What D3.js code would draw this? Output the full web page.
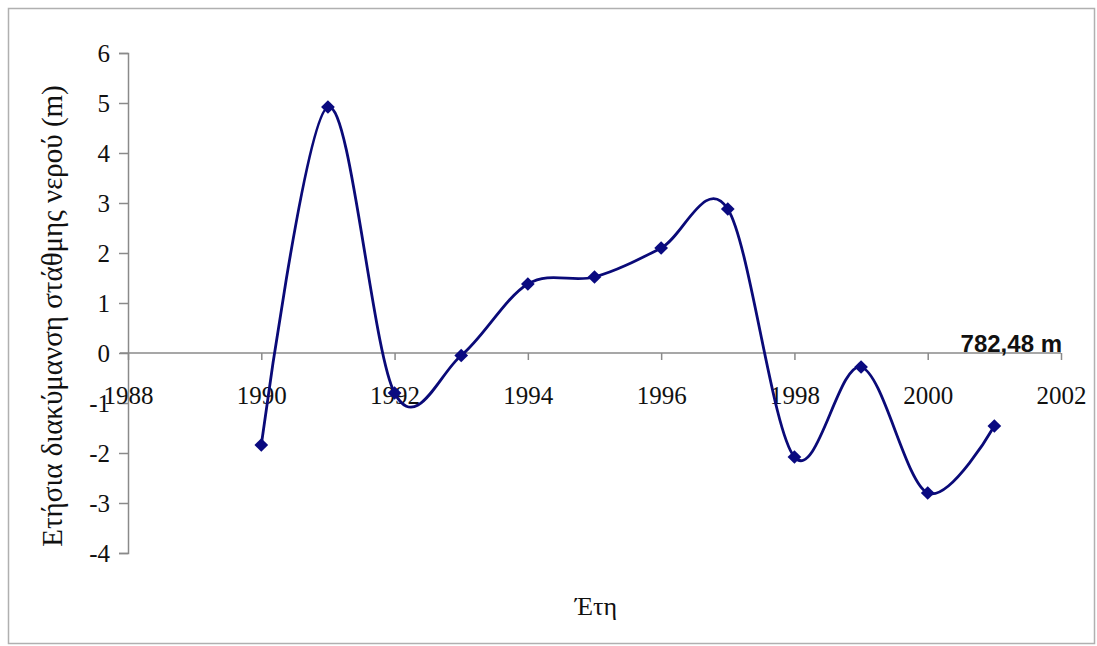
<!DOCTYPE html>
<html><head><meta charset="utf-8">
<script src="https://cdn.jsdelivr.net/npm/d3@7"></script>
<style>body{margin:0;background:#fff}svg{display:block}</style>
</head><body>
<svg id="c" width="1097" height="646"></svg>
<script>
const years = [1990,1991,1992,1993,1994,1995,1996,1997,1998,1999,2000,2001];
const values = [-1.84,4.92,-0.8,-0.05,1.38,1.52,2.1,2.88,-2.08,-0.28,-2.8,-1.46];
const xTicks = [1988,1990,1992,1994,1996,1998,2000,2002];
const yTicks = [-4,-3,-2,-1,0,1,2,3,4,5,6];
const yTitle = "Ετήσια διακύμανση στάθμης νερού (m)";
const xTitle = "Έτη";
const refLabel = "782,48 m";

const svg = d3.select("#c");
svg.append("rect").attr("x",8.5).attr("y",8.5).attr("width",1086).attr("height",635)
  .attr("fill","#fff").attr("stroke","#b0b0b0").attr("stroke-width",1.5);

const x = d3.scaleLinear().domain([1988,2002]).range([128,1061]);
const y = d3.scaleLinear().domain([-4,6]).range([553,53]);
const serif = "'Liberation Serif','Times New Roman',serif";
const axisCol = "#8a8a8a";
const fmt = d => String(d);

// y axis
const ya = svg.append("g").attr("transform",`translate(${x(1988)},0)`)
  .call(d3.axisLeft(y).tickValues(yTicks).tickSize(9).tickPadding(9).tickFormat(fmt));
ya.select(".domain").attr("stroke",axisCol).attr("stroke-width",1.5);
ya.selectAll(".tick line").attr("stroke",axisCol).attr("stroke-width",1.5);
ya.selectAll("text").attr("font-family",serif).attr("font-size",25).attr("fill","#111").attr("dy","0.35em");

// x axis at zero
const xa = svg.append("g").attr("transform",`translate(0,${y(0)})`)
  .call(d3.axisBottom(x).tickValues(xTicks).tickSize(7).tickSizeOuter(0).tickPadding(26).tickFormat(fmt));
xa.select(".domain").attr("stroke",axisCol).attr("stroke-width",1.5)
  .attr("d",`M${x(1988)-8},0H${x(2002)}`);
xa.selectAll(".tick line").attr("stroke",axisCol).attr("stroke-width",1.5);
xa.selectAll("text").attr("font-family",serif).attr("font-size",25).attr("fill","#111");

// line
const pts = years.map((d,i)=>[x(d),y(values[i])]);
svg.append("path").attr("d",d3.line().curve(d3.curveCardinal.tension(0))(pts))
  .attr("fill","none").attr("stroke","#0a0a78").attr("stroke-width",2.8);

// markers
svg.append("g").selectAll("path").data(years).join("path")
  .attr("transform",(d,i)=>`translate(${x(d)},${y(values[i])})`)
  .attr("d",d3.symbol().type(d3.symbolDiamond2).size(120))
  .attr("fill","#0a0a80");

// label
svg.append("text").attr("x",x(2002)+1).attr("y",y(0)-1).attr("text-anchor","end")
  .attr("font-family","'Liberation Sans',Arial,sans-serif").attr("font-weight","bold")
  .attr("font-size",24).attr("fill","#111").text(refLabel);

// titles
svg.append("text").attr("transform",`translate(62,316) rotate(-90)`)
  .attr("text-anchor","middle").attr("font-family",serif).attr("font-size",29).attr("fill","#111").text(yTitle);
svg.append("text").attr("x",596).attr("y",615).attr("text-anchor","middle")
  .attr("font-family",serif).attr("font-size",26).attr("fill","#111").text(xTitle);
</script>
</body></html>
